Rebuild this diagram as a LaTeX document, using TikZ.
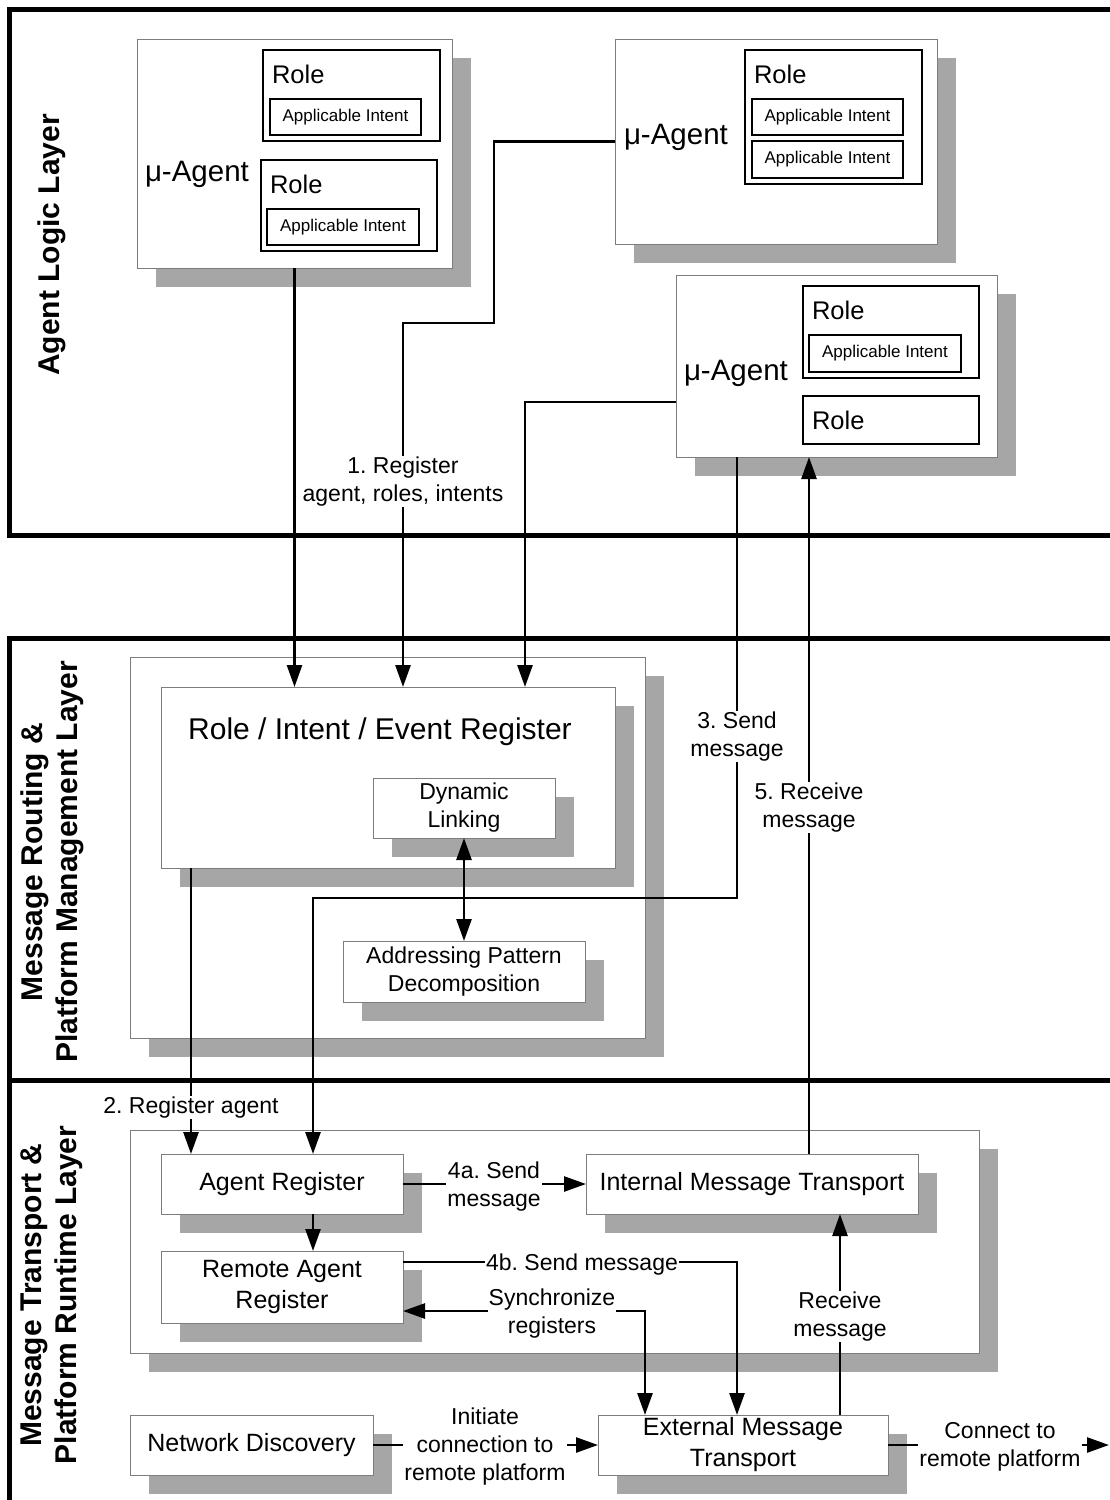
\documentclass[tikz,border=0pt]{standalone}
\usepackage{fontspec}
\setmainfont{Liberation Sans}
\usetikzlibrary{arrows.meta,shadows}
\definecolor{shgray}{RGB}{166,166,166}
\definecolor{bgray}{RGB}{125,125,125}
\newcommand\fBox{\fontsize{25}{31}\selectfont}
\newcommand\fLab{\fontsize{23}{28}\selectfont}
\newcommand\fInt{\fontsize{17}{20}\selectfont}
\newcommand\fRole{\fontsize{25.5}{30}\selectfont}
\newcommand\fAg{\fontsize{29.5}{34}\selectfont}
\newcommand\fTitle{\fontsize{30}{35}\selectfont}
\newcommand\fLayer{\fontsize{30}{35}\selectfont\bfseries}
\frenchspacing
\begin{document}
\begin{tikzpicture}[x=1pt,y=-1pt,
  sh/.style={drop shadow={shadow xshift=19pt,shadow yshift=-19pt,fill=shgray,opacity=1}},
  gbox/.style={draw=bgray,line width=0.9pt,fill=white,inner sep=0pt,outer sep=0pt,anchor=north west,sh,align=center,font=\fBox},
  rbox/.style={draw=black,line width=1.5pt,fill=white,inner sep=0pt,outer sep=0pt,anchor=north west},
  ibox/.style={rbox,font=\fInt},
  txt/.style={inner sep=0pt,outer sep=0pt},
  lab/.style={fill=white,inner sep=1pt,align=center,font=\fLab,yshift=-2.5pt},
  layer/.style={rotate=90,align=center,font=\fLayer,inner sep=0pt},
  arr/.style={line width=2.6pt,-{Triangle[length=22pt,width=15pt]}},
  arrb/.style={line width=2.6pt,{Triangle[length=22pt,width=15pt]}-{Triangle[length=22pt,width=15pt]}},
  frame/.style={line width=5pt,line join=miter}
]
\useasboundingbox (0,0) rectangle (1109,1500);
% layer frames
\draw[frame] (1120,9.5) -- (9.5,9.5) -- (9.5,535) -- (1120,535);
\draw[frame] (1120,638) -- (9.5,638) -- (9.5,1510);
\draw[frame] (9.5,1080) -- (1120,1080);
\node[layer] (l1) at (52,245) {Agent Logic Layer};
\node[layer] (l2) at (52,862) {Message Routing \&\\Platform Management Layer};
\node[layer] (l3) at (52,1295) {Message Transport \&\\Platform Runtime Layer};

% agent 1
\node[gbox,minimum width=315pt,minimum height=229pt] (a1) at (137,39) {};
\node[rbox,minimum width=177pt,minimum height=91pt] (a1r1) at (263,50) {};
\node[txt,font=\fRole,anchor=west] (a1r1t) at (272,74) {Role};
\node[ibox,minimum width=151pt,minimum height=36pt] (a1i1) at (270,99) {Applicable Intent};
\node[rbox,minimum width=176pt,minimum height=91pt] (a1r2) at (261,160) {};
\node[txt,font=\fRole,anchor=west] (a1r2t) at (270,184) {Role};
\node[ibox,minimum width=152pt,minimum height=36pt] (a1i2) at (267,209) {Applicable Intent};
\node[txt,font=\fAg,anchor=west] (a1t) at (145,174) {μ-Agent};

% agent 2
\node[gbox,minimum width=322pt,minimum height=205pt] (a2) at (615,39) {};
\node[rbox,minimum width=177pt,minimum height=134pt] (a2r) at (745,50) {};
\node[txt,font=\fRole,anchor=west] (a2rt) at (754,74) {Role};
\node[ibox,minimum width=151pt,minimum height=36pt] (a2i1) at (752,99) {Applicable Intent};
\node[ibox,minimum width=151pt,minimum height=37pt] (a2i2) at (752,141) {Applicable Intent};
\node[txt,font=\fAg,anchor=west] (a2t) at (624,137) {μ-Agent};

% agent 3
\node[gbox,minimum width=321pt,minimum height=182pt] (a3) at (676,275) {};
\node[rbox,minimum width=176pt,minimum height=92pt] (a3r1) at (803,286) {};
\node[txt,font=\fRole,anchor=west] (a3r1t) at (812,310) {Role};
\node[ibox,minimum width=152pt,minimum height=37pt] (a3i) at (809,335) {Applicable Intent};
\node[rbox,minimum width=176pt,minimum height=48pt] (a3r2) at (803,396) {};
\node[txt,font=\fRole,anchor=west] (a3r2t) at (812,420) {Role};
\node[txt,font=\fAg,anchor=west] (a3t) at (684,373) {μ-Agent};

% layer 2
\node[gbox,minimum width=515pt,minimum height=381pt] (mr) at (130,657) {};
\node[gbox,minimum width=454pt,minimum height=181pt] (rie) at (161,687) {};
\node[txt,font=\fTitle] (riet) at (380,732) {Role / Intent / Event Register};
\node[gbox,font=\fLab,minimum width=182pt,minimum height=60pt] (dl) at (373,778) {Dynamic\\Linking};
\node[gbox,font=\fLab,minimum width=242pt,minimum height=61pt] (ap) at (343,941) {Addressing Pattern\\Decomposition};

% layer 3
\node[gbox,minimum width=849pt,minimum height=223pt] (mt) at (130,1130) {};
\node[gbox,minimum width=242pt,minimum height=60pt] (ar) at (161,1154) {Agent Register};
\node[gbox,minimum width=242pt,minimum height=72pt] (rar) at (161,1251) {Remote Agent\\Register};
\node[gbox,minimum width=332pt,minimum height=60pt] (imt) at (586,1154) {Internal Message Transport};
\node[gbox,minimum width=243pt,minimum height=60pt] (nd) at (130,1415) {Network Discovery};
\node[gbox,minimum width=290pt,minimum height=60pt] (emt) at (598,1415) {External Message\\Transport};

% connectors
\coordinate (c1) at (494,323);
\coordinate (c2) at (403,323);
\coordinate (t3) at (313,898);
\coordinate (out) at (1109,1445);
\draw[arr] (a1.south) -- (a1.south |- rie.north);
\draw[arr] (a2.west) -| (c1) -- (c2) -- (c2 |- rie.north);
\draw[arr] ([yshift=-36pt]a3.west) -| ([xshift=137pt]rie.north);
\draw[arr] ([xshift=-99.5pt]a3.south) |- (t3) -- (t3 |- ar.north);
\draw[arr] ([xshift=57pt]imt.north) -- ([xshift=57pt]imt.north |- a3.south);
\draw[arr] ([xshift=-197pt]rie.south) -- ([xshift=-197pt]rie.south |- ar.north);
\draw[arrb] (dl.south) -- (ap.north);
\draw[arr] ([xshift=31pt]ar.south) -- ([xshift=31pt]ar.south |- rar.north);
\draw[arr] (ar.east) -- (imt.west);
\draw[arr] ([yshift=25pt]rar.east) -| ([xshift=-6pt]emt.north);
\draw[arrb] ([yshift=-24pt]rar.east) -| ([xshift=-98pt]emt.north);
\draw[arr] ([xshift=97pt]emt.north) -- ([xshift=97pt]emt.north |- imt.south);
\draw[arr] (nd.east) -- (emt.west);
\draw[arr] (emt.east) -- (out);

% labels
\node[lab] (L1) at (403,479) {1. Register\\agent, roles, intents};
\node[lab] (L3) at (737,734) {3. Send\\message};
\node[lab] (L5) at (809,805) {5. Receive\\message};
\node[lab] (L2) at (191,1105) {2. Register agent};
\node[lab] (L4a) at (494,1184) {4a. Send\\message};
\node[lab] (L4b) at (582,1262) {4b. Send message};
\node[lab] (Lsy) at (552,1311) {Synchronize\\registers};
\node[lab] (Lrc) at (840,1314) {Receive\\message};
\node[lab] (Lin) at (485,1444) {Initiate\\connection to\\remote platform};
\node[lab] (Lco) at (1000,1444) {Connect to\\remote platform};
\end{tikzpicture}
\end{document}
